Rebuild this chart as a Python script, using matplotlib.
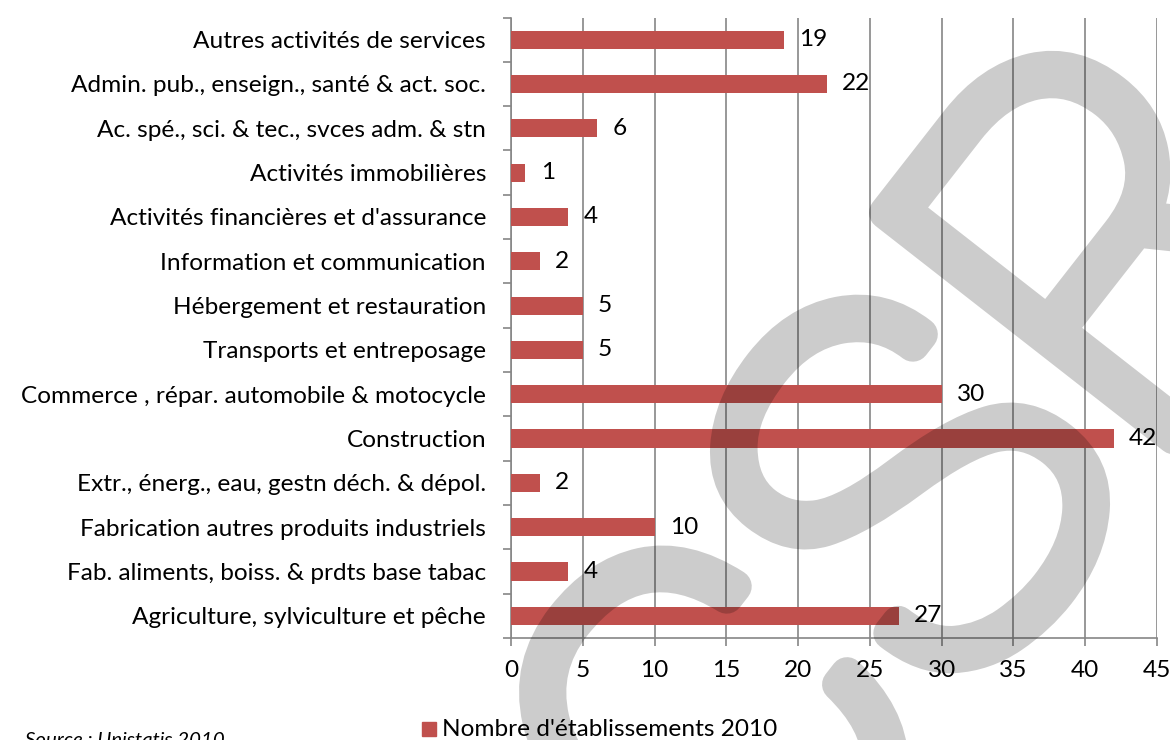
import numpy as np
import matplotlib.pyplot as plt
import matplotlib.patheffects as pe
from matplotlib.patches import Rectangle

plt.rcParams['font.family'] = ['Lato', 'DejaVu Sans']

#Data (top to bottom as displayed)
secteurs = ["Autres activités de services",
            "Admin. pub., enseign., santé & act. soc.",
            "Ac. spé., sci. & tec., svces adm. & stn",
            "Activités immobilières",
            "Activités financières et d'assurance",
            "Information et communication",
            "Hébergement et restauration",
            "Transports et entreposage",
            "Commerce , répar. automobile & motocycle",
            "Construction",
            "Extr., énerg., eau, gestn déch. & dépol.",
            "Fabrication autres produits industriels",
            "Fab. aliments, boiss. & prdts base tabac",
            "Agriculture, sylviculture et pêche"]
nb_etab = [19, 22, 6, 1, 4, 2, 5, 5, 30, 42, 2, 10, 4, 27]
x_ticks = [0, 5, 10, 15, 20, 25, 30, 35, 40, 45]

bar_color = '#C0504D'
grid_color = '#868686'
fs = 17.6
W, H, DPI = 1170, 740, 100

fig = plt.figure(figsize=(W/DPI, H/DPI), dpi=DPI)
ax = fig.add_axes([511/W, 1-638/H, (1157-511)/W, (638-17.5)/H])

ypos = np.arange(len(secteurs))
ax.barh(ypos, nb_etab, height=0.41, color=bar_color, zorder=3)
ax.set_ylim(len(secteurs)-0.5, -0.5)
ax.set_xlim(0, 45)

#Value labels
for y, v in zip(ypos, nb_etab):
    ax.annotate(str(v), (v, y), xytext=(11, 0), textcoords='offset points',
                va='center', ha='left', fontsize=fs, zorder=4)

#Axes style
ax.set_xticks(x_ticks)
ax.set_yticks(ypos)
ax.set_yticklabels(secteurs, fontsize=fs)
ax.set_yticks(np.arange(-0.5, len(secteurs), 1), minor=True)
ax.tick_params(axis='y', which='major', length=0, pad=18)
ax.tick_params(axis='y', which='minor', length=6, color=grid_color, width=1.2)
ax.tick_params(axis='x', length=6, color=grid_color, width=1.2, labelsize=fs, pad=10)
ax.xaxis.grid(True, color=grid_color, linewidth=1.2, zorder=1)
ax.set_axisbelow(True)
for s in ['top', 'right']:
    ax.spines[s].set_visible(False)
for s in ['left', 'bottom']:
    ax.spines[s].set_color(grid_color)
    ax.spines[s].set_linewidth(1.2)

#Legend and source
fig.patches.append(Rectangle((422/W, 1-736/H), 14/W, 14/H,
                             transform=fig.transFigure, color=bar_color))
fig.text(442/W, 1-729/H, "Nombre d'établissements 2010", fontsize=fs,
         va='center', ha='left')
fig.text(25/W, 1-746/H, "Source : Unistatis 2010", fontsize=14.7,
         style='italic', va='baseline', ha='left')

#Watermark: rendered opaque off-screen, then laid over as a translucent mask
wm_fig = plt.figure(figsize=(W/DPI, H/DPI), dpi=DPI)
wm = wm_fig.text(940/W, 1-508/H, "CSR", fontsize=370, color='black',
                 rotation=52, ha='center', va='center',
                 family=['Roboto', 'DejaVu Sans'], fontweight='light')
wm.set_path_effects([pe.Stroke(linewidth=24, foreground='black'), pe.Normal()])
wm_fig.canvas.draw()
cover = 1 - np.asarray(wm_fig.canvas.buffer_rgba())[..., 0].astype(float)/255
plt.close(wm_fig)
mask = np.zeros(cover.shape + (4,))
mask[..., 3] = 0.2*cover
fig.figimage(mask, zorder=10)

fig.savefig('out.png', dpi=DPI)
